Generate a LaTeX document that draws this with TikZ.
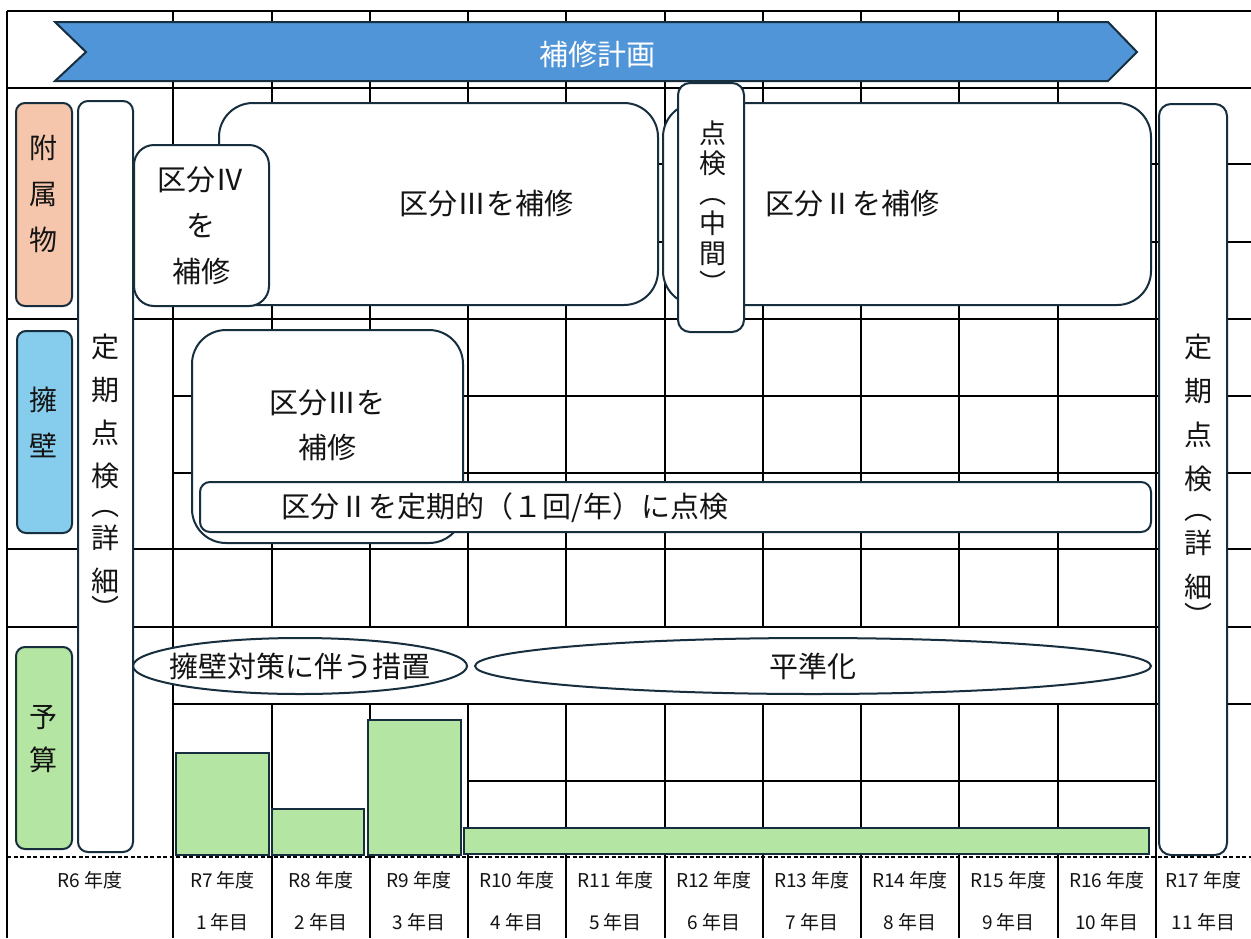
\documentclass[tikz,border=0pt]{standalone}
\usepackage{fontspec}
\setmainfont{Noto Sans CJK JP}
\usetikzlibrary{shapes.geometric,fit}
\definecolor{bd}{RGB}{22,46,62}
\definecolor{planblue}{RGB}{80,149,216}
\definecolor{salmon}{RGB}{245,198,172}
\definecolor{skyb}{RGB}{134,204,236}
\definecolor{budgetg}{RGB}{180,229,162}
\definecolor{ink}{RGB}{20,20,20}
\tikzset{
  gridline/.style={line width=1.6pt, draw=black},
  box/.style={draw=bd, line width=2pt, fill=white, inner sep=0pt},
  txt/.style={text=ink, font=\fontsize{29}{35}\selectfont, inner sep=0pt},
  vtxt/.style={text=ink, font=\fontsize{28}{43}\selectfont, align=center, inner sep=0pt},
  small/.style={text=ink, font=\fontsize{19}{21}\selectfont, inner sep=0pt},
  bar/.style={draw=bd, line width=2pt, fill=budgetg},
}
\begin{document}
\begin{tikzpicture}[x=1pt,y=-1pt]
\useasboundingbox (0,0) rectangle (1251,938);
\fill[white] (0,0) rectangle (1251,938);
% grid
\draw[gridline] (7,11) -- (7,938);
\foreach \x in {173,1156} \draw[gridline] (\x,11) -- (\x,938);
\foreach \x in {272,370,468,566,665,763,861,959,1058} {
  \draw[gridline] (\x,11) -- (\x,627);
  \draw[gridline] (\x,704) -- (\x,938);
}
\foreach \y in {11,88,319,549,627} \draw[gridline] (7,\y) -- (1251,\y);
\foreach \y in {164,242,396,473,704} \draw[gridline] (173,\y) -- (1251,\y);
\draw[gridline] (468,781) -- (1156,781);

% plan chevron
\draw[draw=bd, line width=2pt, fill=planblue, line join=miter]
  (55,22) -- (1108,22) -- (1137,52) -- (1108,81) -- (55,81) -- (86,52) -- cycle;
\node[txt, text=white] (plan) at (597,54) {補修計画};

% accessory row
\node[box, rounded corners=34pt, fit={(219,103) (658,305)}] (fz3) {};
\node[txt] (fz3t) at (486,204) {区分Ⅲを補修};
\node[box, rounded corners=34pt, fit={(663,103) (1151,305)}] (fz2) {};
\node[txt] (fz2t) at (852,204) {区分Ⅱを補修};
\node[box, rounded corners=20pt, fit={(134,145) (269,306)}] (fz4) {};
\node[vtxt, font=\fontsize{29}{46}\selectfont] (fz4t) at (201,226) {区分Ⅳ\\を\\補修};
\node[box, rounded corners=12pt, fit={(678,83) (744,332)}] (mid) {};
\node[vtxt, font=\fontsize{27}{30}\selectfont] (midt) at (713,207) {点\\検\\︵\\中\\間\\︶};

% wall row
\node[box, rounded corners=34pt, fit={(192,330) (463,543)}] (wl3) {};
\node[vtxt, font=\fontsize{29}{45}\selectfont] (wl3t) at (327,425) {区分Ⅲを\\補修};
\node[box, rounded corners=10pt, fit={(200,482) (1151,532)}] (wl2) {};
\node[txt] (wl2t) at (505,508) {区分Ⅱを定期的（１回/年）に点検};

% budget row
\node[box, ellipse, minimum width=334pt, minimum height=56pt] (e1) at (300,666) {};
\node[txt] (e1t) at (e1) {擁壁対策に伴う措置};
\node[box, ellipse, minimum width=676pt, minimum height=56pt] (e2) at (813,666) {};
\node[txt] (e2t) at (e2) {平準化};

\draw[bar] (176,753) rectangle (269,855);
\draw[bar] (272,809) rectangle (364,855);
\draw[bar] (368,720) rectangle (461,855);
\draw[bar] (464,828) rectangle (1149,854);

% detailed inspection boxes
\node[box, rounded corners=10pt, fit={(78,101) (133,852)}] (insL) {};
\node[vtxt] (insLt) at (105,477) {定\\期\\点\\検\\[-14pt]︵\\[-10pt]詳\\細\\[-15pt]︶};
\node[box, rounded corners=12pt, fit={(1159,104) (1227,855)}] (insR) {};
\node[vtxt, font=\fontsize{28}{44}\selectfont] (insRt) at (1198,480) {定\\期\\点\\検\\[-14pt]︵\\[-10pt]詳\\細\\[-15pt]︶};

% row headers
\node[box, fill=salmon, rounded corners=9pt, fit={(16,103) (72,306)}] (hA) {};
\node[vtxt, font=\fontsize{28}{46}\selectfont] (hAt) at (44,194) {附\\属\\物};
\node[box, fill=skyb, rounded corners=9pt, fit={(17,331) (72,533)}] (hW) {};
\node[vtxt, font=\fontsize{28}{46}\selectfont] (hWt) at (44,422) {擁\\壁};
\node[box, fill=budgetg, rounded corners=9pt, fit={(16,647) (72,849)}] (hB) {};
\node[vtxt, font=\fontsize{28}{43}\selectfont] (hBt) at (44,739) {予\\算};

% dashed baseline
\draw[line width=1.5pt, dash pattern=on 4pt off 2.5pt] (7,857) -- (1251,857);

% year labels
\node[small] (y6) at (90,880) {R6 年度};
\foreach \c/\r/\n [count=\i] in {222.5/7/1,321/8/2,419/9/3,517/10/4,615.5/11/5,714/12/6,812/13/7,910/14/8,1008.5/15/9,1107/16/10,1203.5/17/11} {
  \node[small] (yr\i) at (\c,880) {R\r{} 年度};
  \node[small] (yn\i) at (\c,922) {\n{} 年目};
}
\end{tikzpicture}
\end{document}
